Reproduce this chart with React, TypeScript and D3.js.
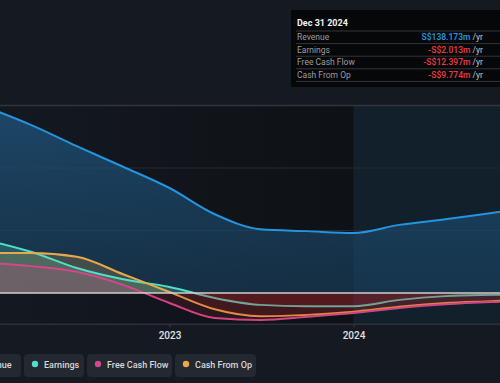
import React from "react";
import * as d3 from "d3";

const dates = [
  "2021-12-31", "2022-03-31", "2022-06-30", "2022-09-30", "2022-12-31",
  "2023-03-31", "2023-06-30", "2023-09-30", "2023-12-31",
  "2024-03-31", "2024-06-30", "2024-09-30", "2024-12-31",
];
const revenue = [298, 269, 235, 202, 168, 126, 102, 99, 96, 109, 118, 128, 138.173];
const earnings = [85, 66, 40, 22, 9.6, -8, -19, -21, -21, -11, -5, -3, -2.013];
const freeCashFlow = [48, 43, 34, 13, -16, -40, -43, -38, -32, -24, -18, -14.4, -12.397];
const cashFromOp = [64, 64, 58, 30, 1.6, -26, -37, -35, -30, -22, -16, -13, -9.774];

const yTicks = [0, 100, 200, 300];
const xTicks = ["2023-01-01", "2024-01-01"];
const xTickLabels = ["2023", "2024"];
const highlightStart = "2023-12-31";

const tooltipTitle = "Dec 31 2024";
const tooltipRows = [
  { label: "Revenue", value: "S$138.173m", color: "#2394df" },
  { label: "Earnings", value: "-S$2.013m", color: "#e5393f" },
  { label: "Free Cash Flow", value: "-S$12.397m", color: "#e5393f" },
  { label: "Cash From Op", value: "-S$9.774m", color: "#e5393f" },
];

const legendNames = ["Revenue", "Earnings", "Free Cash Flow", "Cash From Op"];
const legendColors = ["#2394df", "#4fe0c6", "#d6468a", "#e8a94b"];

const W = 500;
const H = 383;
const FONT = "Roboto, 'Noto Sans', sans-serif";

export default function App() {
  const parse = d3.timeParse("%Y-%m-%d");
  const ds = dates.map((d) => parse(d) as Date);

  const x = d3
    .scaleTime()
    .domain([parse("2023-01-01") as Date, parse("2024-01-01") as Date])
    .range([170, 354]);
  const y = d3.scaleLinear().domain([-50, 300]).range([324.25, 105.5]);

  const mk = (vals: number[]) => ds.map((d, i) => ({ d, v: vals[i] }));
  const line = d3
    .line<{ d: Date; v: number }>()
    .x((p) => x(p.d))
    .y((p) => y(p.v))
    .curve(d3.curveMonotoneX);
  const area = d3
    .area<{ d: Date; v: number }>()
    .x((p) => x(p.d))
    .y0(y(0))
    .y1((p) => y(p.v))
    .curve(d3.curveMonotoneX);

  const series = [
    { name: "Earnings", vals: earnings, color: legendColors[1] },
    { name: "Cash From Op", vals: cashFromOp, color: legendColors[3] },
    { name: "Free Cash Flow", vals: freeCashFlow, color: legendColors[2] },
  ];

  const hx = x(parse(highlightStart) as Date);
  const top = y(300);
  const bottom = y(-50);
  const zero = y(0);

  // legend layout
  const legendWidths = [64, 60, 85, 81];
  const legendGap = 3;
  let lx = 21 - legendWidths[0];
  const legendItems = legendNames.map((n, i) => {
    const item = { name: n, x: lx, w: legendWidths[i], color: legendColors[i] };
    lx += legendWidths[i] + legendGap;
    return item;
  });

  return (
    <div style={{ position: "absolute", left: 0, top: 0, width: W, height: H }}>
      <svg width={W} height={H} style={{ display: "block", fontFamily: FONT }}>
        <defs>
          <linearGradient id="pastBg" x1="0" x2="1" y1="0" y2="0">
            <stop offset="0%" stopColor="#141920" />
            <stop offset="100%" stopColor="#0e1116" />
          </linearGradient>
          <linearGradient id="revFill" x1="0" x2="0" y1="0" y2="1">
            <stop offset="0%" stopColor="#1f5580" stopOpacity={0.75} />
            <stop offset="100%" stopColor="#1a4566" stopOpacity={0.55} />
          </linearGradient>
          <clipPath id="pos">
            <rect x={-50} y={0} width={W + 100} height={zero} />
          </clipPath>
          <clipPath id="neg">
            <rect x={-50} y={zero} width={W + 100} height={H} />
          </clipPath>
        </defs>
        <rect width={W} height={H} fill="#151a22" />
        <rect x={0} y={top} width={hx} height={bottom - top} fill="url(#pastBg)" />
        <rect x={hx} y={top} width={W - hx} height={bottom - top} fill="#12202c" />

        {yTicks.map((t) =>
          t === 0 ? null : (
            <line
              key={t}
              x1={0}
              x2={W}
              y1={y(t)}
              y2={y(t)}
              stroke={t === 300 ? "#31363e" : "#252a32"}
              strokeWidth={t === 300 ? 1.5 : 1}
            />
          )
        )}

        <path d={area(mk(revenue)) || ""} fill="url(#revFill)" />

        {series.map((s) => (
          <path key={s.name} d={area(mk(s.vals)) || ""} fill={s.color} opacity={0.22} clipPath="url(#pos)" />
        ))}

        <path d={line(mk(revenue)) || ""} fill="none" stroke={legendColors[0]} strokeWidth={2} />
        {series.map((s) => (
          <path key={s.name} d={line(mk(s.vals)) || ""} fill="none" stroke={s.color} strokeWidth={2} />
        ))}

        {series.map((s) => (
          <path key={s.name} d={area(mk(s.vals)) || ""} fill="#c4262f" opacity={0.15} clipPath="url(#neg)" />
        ))}

        <line x1={0} x2={W} y1={zero} y2={zero} stroke="#cfcfcf" strokeWidth={1.5} />

        <line x1={0} x2={W} y1={bottom} y2={bottom} stroke="#2b3039" strokeWidth={1.5} />
        {xTicks.map((t, i) => {
          const tx = x(parse(t) as Date);
          return (
            <g key={t}>
              <line x1={tx} x2={tx} y1={bottom} y2={bottom + 3} stroke="#3a3f48" />
              <text x={tx} y={339} textAnchor="middle" fontSize={10} fill="#e2e2e2" fontWeight={500}>
                {xTickLabels[i]}
              </text>
            </g>
          );
        })}

        <g>
          <rect x={291} y={10} width={215} height={77} fill="#060709" />
          <text x={297} y={26} fontSize={9} fontWeight={700} fill="#f2f2f2">
            {tooltipTitle}
          </text>
          {tooltipRows.map((r, i) => {
            const ry = 31 + i * 12.6;
            return (
              <g key={r.label}>
                <line x1={296} x2={500} y1={ry} y2={ry} stroke="#34363b" strokeWidth={1} />
                <text x={297} y={ry + 9} fontSize={8.5} fill="#9a9ca0">
                  {r.label}
                </text>
                <text x={483} y={ry + 9} fontSize={8.5} textAnchor="end">
                  <tspan fill={r.color} fontWeight={600}>{r.value}</tspan>
                  <tspan fill="#c8c8c8"> /yr</tspan>
                </text>
              </g>
            );
          })}
          <line x1={296} x2={500} y1={31 + 4 * 12.6} y2={31 + 4 * 12.6} stroke="#34363b" strokeWidth={1} />
        </g>

        {legendItems.map((it) => (
          <g key={it.name}>
            <rect x={it.x} y={354} width={it.w} height={23} rx={4} fill="#232831" />
            <circle cx={it.x + 11} cy={364} r={3.2} fill={it.color} />
            <text x={it.x + 20} y={367.5} fontSize={9} fill="#d8d8d8" fontWeight={500}>
              {it.name}
            </text>
          </g>
        ))}
      </svg>
    </div>
  );
}
